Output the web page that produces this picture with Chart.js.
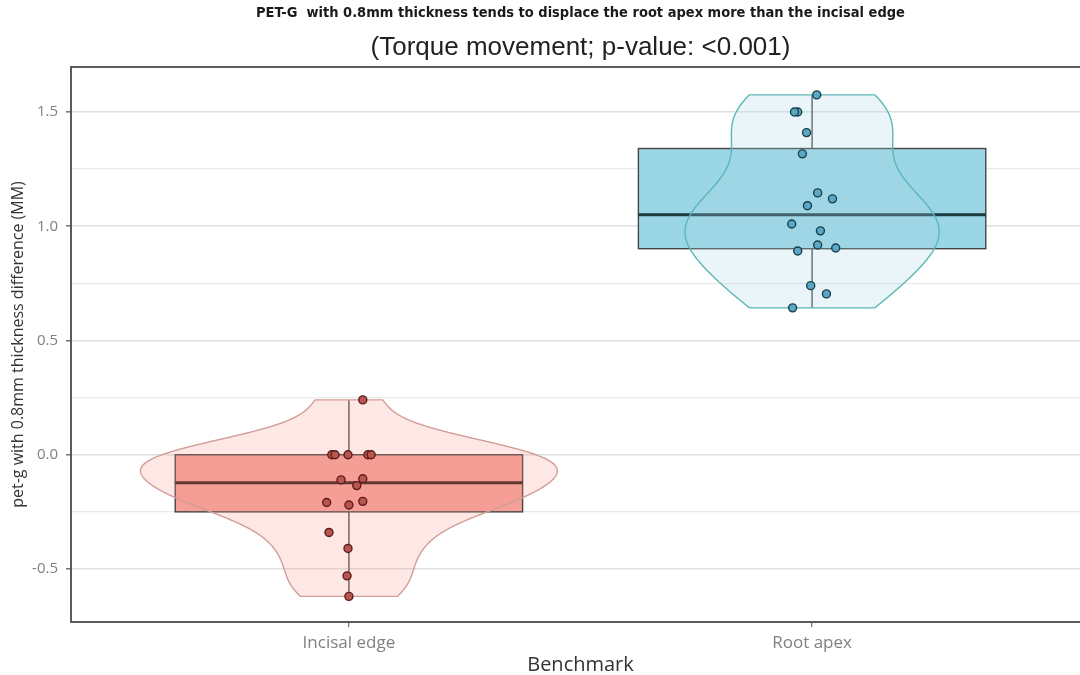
<!DOCTYPE html>
<html>
<head>
<meta charset="utf-8">
<script src="https://cdn.jsdelivr.net/npm/chart.js@4.4.1/dist/chart.umd.min.js"></script>
<style>
  html, body { margin: 0; padding: 0; background: #fff; overflow: hidden; }
  #wrap { width: 1140px; height: 675px; }
</style>
</head>
<body>
<div id="wrap"><canvas id="chart" width="1140" height="675"></canvas></div>
<script>
// ===============================
// == DATA
// ===============================
const categories = ['Incisal edge', 'Root apex'];

// thickness difference per tooth (mm)
const incisalValues = [0.24, 0, 0, 0, 0, 0, -0.11, -0.135, -0.105, -0.22, -0.209, -0.204, -0.34, -0.41, -0.53, -0.62];
const rootValues = [1.575, 1.50, 1.50, 1.41, 1.317, 1.146, 1.12, 1.09, 1.01, 0.98, 0.892, 0.918, 0.905, 0.74, 0.704, 0.643];

// horizontal jitter of each point, in category units
const incisalJitter = [0.030, -0.037, -0.030, -0.002, 0.041, 0.048, -0.017, 0.017, 0.030, 0.000, -0.048, 0.030, -0.043, -0.002, -0.004, 0.000];
const rootJitter = [0.010, -0.031, -0.038, -0.012, -0.021, 0.012, 0.044, -0.010, -0.044, 0.018, -0.031, 0.012, 0.051, -0.003, 0.031, -0.042];

const yTickValues = [-0.5, -0.25, 0, 0.25, 0.5, 0.75, 1.0, 1.25, 1.5];

// ===============================
// == STYLE
// ===============================
const groups = [
    { values: incisalValues, jitter: incisalJitter, pos: 1,
      boxFill: '#f4a098', median: '#3b1c1a',
      violinFill: 'rgba(248, 150, 140, 0.22)', violinLine: '#d39c97',
      point: '#b9544f', pointLine: '#5a1d1d' },
    { values: rootValues, jitter: rootJitter, pos: 2,
      boxFill: '#9ad6e6', median: '#1c3a42',
      violinFill: 'rgba(170, 215, 232, 0.25)', violinLine: '#5cb7b7',
      point: '#5aa8c6', pointLine: '#1a3f4d' }
];
const BOX_HALF = 0.375;
const VIOLIN_HALF = 0.45;

// ===============================
// == STATS HELPERS
// ===============================
function quantile(sorted, p) {
    const h = (sorted.length - 1) * p;
    const lo = Math.floor(h);
    const hi = Math.ceil(h);
    return sorted[lo] + (h - lo) * (sorted[hi] - sorted[lo]);
}

function boxStats(values) {
    const s = [...values].sort((a, b) => a - b);
    const q1 = quantile(s, 0.25), med = quantile(s, 0.5), q3 = quantile(s, 0.75);
    const iqr = q3 - q1;
    const inside = s.filter(v => v >= q1 - 1.5 * iqr && v <= q3 + 1.5 * iqr);
    return { q1, med, q3, lo: inside[0], hi: inside[inside.length - 1] };
}

// Silverman's rule of thumb, same as R's bw.nrd0
function bandwidth(values) {
    const n = values.length;
    const mean = values.reduce((a, b) => a + b, 0) / n;
    const sd = Math.sqrt(values.reduce((a, b) => a + (b - mean) ** 2, 0) / (n - 1));
    const s = [...values].sort((a, b) => a - b);
    const iqr = quantile(s, 0.75) - quantile(s, 0.25);
    const lo = Math.min(sd, iqr / 1.34) || sd || 1;
    return 0.9 * lo * Math.pow(n, -0.2);
}

// gaussian density, trimmed to the data range
function densityCurve(values, steps) {
    const bw = bandwidth(values);
    const min = Math.min(...values), max = Math.max(...values);
    const norm = 1 / (values.length * bw * Math.sqrt(2 * Math.PI));
    const out = [];
    for (let i = 0; i < steps; i++) {
        const y = min + (max - min) * i / (steps - 1);
        let d = 0;
        values.forEach(v => { const z = (y - v) / bw; d += Math.exp(-0.5 * z * z); });
        out.push({ y, d: d * norm });
    }
    return out;
}

groups.forEach(g => {
    g.stats = boxStats(g.values);
    g.density = densityCurve(g.values, 512);
});
const maxDensity = Math.max(...groups.flatMap(g => g.density.map(p => p.d)));

// ===============================
// == PLUGIN: BOX + VIOLIN + BORDER
// ===============================
const violinBoxPlugin = {
    id: 'violinBox',
    beforeDatasetsDraw(chart) {
        const { ctx, chartArea, scales: { x, y } } = chart;
        ctx.save();
        ctx.beginPath();
        ctx.rect(chartArea.left, chartArea.top, chartArea.width, chartArea.height);
        ctx.clip();

        groups.forEach(g => {
            const st = g.stats;
            const xc = x.getPixelForValue(g.pos);
            const xl = x.getPixelForValue(g.pos - BOX_HALF);
            const xr = x.getPixelForValue(g.pos + BOX_HALF);
            const yq1 = y.getPixelForValue(st.q1), yq3 = y.getPixelForValue(st.q3);

            // whiskers
            ctx.strokeStyle = '#4a4a4a';
            ctx.lineWidth = 1.4;
            ctx.beginPath();
            ctx.moveTo(xc, yq3); ctx.lineTo(xc, y.getPixelForValue(st.hi));
            ctx.moveTo(xc, yq1); ctx.lineTo(xc, y.getPixelForValue(st.lo));
            ctx.stroke();

            // box
            ctx.fillStyle = g.boxFill;
            ctx.fillRect(xl, yq3, xr - xl, yq1 - yq3);
            ctx.strokeStyle = '#454545';
            ctx.lineWidth = 1.4;
            ctx.strokeRect(xl, yq3, xr - xl, yq1 - yq3);

            // median
            const ym = y.getPixelForValue(st.med);
            ctx.strokeStyle = g.median;
            ctx.lineWidth = 3;
            ctx.beginPath();
            ctx.moveTo(xl, ym); ctx.lineTo(xr, ym);
            ctx.stroke();

            // violin on top, mostly transparent
            ctx.beginPath();
            g.density.forEach((p, i) => {
                const px = x.getPixelForValue(g.pos + VIOLIN_HALF * p.d / maxDensity);
                const py = y.getPixelForValue(p.y);
                if (i === 0) ctx.moveTo(px, py); else ctx.lineTo(px, py);
            });
            for (let i = g.density.length - 1; i >= 0; i--) {
                const p = g.density[i];
                ctx.lineTo(x.getPixelForValue(g.pos - VIOLIN_HALF * p.d / maxDensity), y.getPixelForValue(p.y));
            }
            ctx.closePath();
            ctx.fillStyle = g.violinFill;
            ctx.fill();
            ctx.strokeStyle = g.violinLine;
            ctx.lineWidth = 1.4;
            ctx.stroke();
        });
        ctx.restore();
    },
    afterDatasetsDraw(chart) {
        const { ctx, chartArea } = chart;
        ctx.save();
        ctx.strokeStyle = '#4a4a4a';
        ctx.lineWidth = 1.8;
        ctx.strokeRect(chartArea.left, chartArea.top, chartArea.width, chartArea.height);
        ctx.restore();
    }
};

// ===============================
// == CHART
// ===============================
const isMajor = v => Math.abs(v * 2 - Math.round(v * 2)) < 1e-6;

new Chart(document.getElementById('chart'), {
    type: 'scatter',
    data: {
        datasets: groups.map(g => ({
            data: g.values.map((v, i) => ({ x: g.pos + g.jitter[i], y: v })),
            pointRadius: 4,
            pointBackgroundColor: g.point,
            pointBorderColor: g.pointLine,
            pointBorderWidth: 1.4
        }))
    },
    options: {
        responsive: false,
        animation: false,
        layout: { padding: { left: 0, right: 50, top: 0, bottom: 0 } },
        plugins: {
            legend: { display: false },
            tooltip: { enabled: false },
            title: {
                display: true,
                fullSize: false,
                text: 'PET-G  with 0.8mm thickness tends to displace the root apex more than the incisal edge',
                color: '#1a1a1a',
                font: { family: "'DejaVu Sans Condensed', 'Open Sans', sans-serif", size: 14.5, weight: 'bold', lineHeight: 1.2 },
                padding: { top: 5, bottom: 0 }
            },
            subtitle: {
                display: true,
                fullSize: false,
                text: '(Torque movement; p-value: <0.001)',
                color: '#222',
                font: { family: 'Liberation Sans', size: 26, lineHeight: 1.1 },
                padding: { top: 11, bottom: 5 }
            }
        },
        scales: {
            x: {
                type: 'linear',
                min: 0.4,
                max: 2.6,
                afterBuildTicks: scale => { scale.ticks = categories.map((c, i) => ({ value: i + 1 })); },
                afterFit: scale => { scale.height = 53; },
                ticks: {
                    autoSkip: false,
                    maxRotation: 0,
                    padding: 6,
                    color: '#808080',
                    font: { family: 'Open Sans', size: 17 },
                    callback: v => categories[Math.round(v) - 1]
                },
                grid: { drawOnChartArea: false, tickLength: 5, tickColor: '#7a7a7a', lineWidth: 1.3 },
                border: { display: false },
                title: {
                    display: true,
                    text: 'Benchmark',
                    color: '#333',
                    font: { family: 'Open Sans', size: 20, lineHeight: 1.0 },
                    padding: { top: 0, bottom: 0 }
                }
            },
            y: {
                min: -0.732,
                max: 1.697,
                afterBuildTicks: scale => { scale.ticks = yTickValues.map(v => ({ value: v })); },
                afterFit: scale => { scale.width = 71; },
                ticks: {
                    autoSkip: false,
                    padding: 8,
                    color: '#808080',
                    font: { family: 'Open Sans', size: 15 },
                    callback: v => isMajor(v) ? v.toFixed(1) : ''
                },
                grid: {
                    color: ctx => isMajor(ctx.tick.value) ? '#e0e0e0' : '#e9e9e9',
                    lineWidth: ctx => isMajor(ctx.tick.value) ? 1.6 : 1.3,
                    tickColor: ctx => isMajor(ctx.tick.value) ? '#7a7a7a' : 'rgba(0,0,0,0)',
                    tickLength: 5
                },
                border: { display: false },
                title: {
                    display: true,
                    text: 'pet-g with 0.8mm thickness difference (MM)',
                    color: '#333',
                    font: { family: 'Open Sans', size: 16, lineHeight: 1.2 },
                    padding: { top: 9, bottom: 0 }
                }
            }
        }
    },
    plugins: [violinBoxPlugin]
});
</script>
</body>
</html>
